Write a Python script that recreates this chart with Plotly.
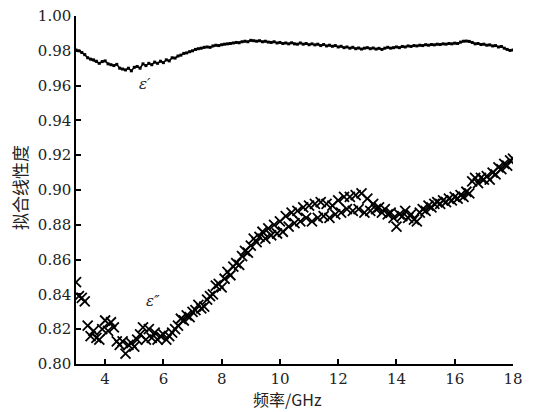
import numpy as np
import plotly.graph_objects as go

# Frequency grid (GHz)
freq = [round(3.0 + 0.1 * i, 1) for i in range(151)]

# Fitting linearity of epsilon' (real part)
eps_real = [
    0.9805, 0.9800, 0.9790, 0.9778, 0.9760, 0.9752, 0.9748, 0.9740, 0.9728, 0.9738,
    0.9742, 0.9725, 0.9720, 0.9715, 0.9722, 0.9700, 0.9695, 0.9690, 0.9700, 0.9685,
    0.9705, 0.9710, 0.9700, 0.9725, 0.9715, 0.9728, 0.9720, 0.9735, 0.9728, 0.9740,
    0.9732, 0.9748, 0.9742, 0.9760, 0.9758, 0.9770, 0.9775, 0.9785, 0.9788, 0.9795,
    0.9800, 0.9808, 0.9812, 0.9815, 0.9820, 0.9822, 0.9820, 0.9828, 0.9832, 0.9830,
    0.9835, 0.9838, 0.9840, 0.9842, 0.9845, 0.9848, 0.9846, 0.9852, 0.9855, 0.9852,
    0.9860, 0.9858, 0.9855, 0.9858, 0.9852, 0.9855, 0.9850, 0.9848, 0.9852, 0.9845,
    0.9848, 0.9842, 0.9845, 0.9840, 0.9846, 0.9840, 0.9838, 0.9845, 0.9838, 0.9842,
    0.9835, 0.9840, 0.9834, 0.9838, 0.9830, 0.9836, 0.9828, 0.9832, 0.9826, 0.9830,
    0.9822, 0.9826, 0.9818, 0.9822, 0.9815, 0.9820, 0.9812, 0.9816, 0.9810, 0.9815,
    0.9818, 0.9812, 0.9816, 0.9810, 0.9814, 0.9808, 0.9815, 0.9820, 0.9815, 0.9818,
    0.9822, 0.9818, 0.9825, 0.9822, 0.9828, 0.9825, 0.9830, 0.9828, 0.9832, 0.9830,
    0.9835, 0.9832, 0.9836, 0.9834, 0.9838, 0.9836, 0.9840, 0.9838, 0.9842, 0.9840,
    0.9844, 0.9842, 0.9850, 0.9855, 0.9856, 0.9854, 0.9848, 0.9840, 0.9842, 0.9836,
    0.9838, 0.9832, 0.9834, 0.9828, 0.9830, 0.9822, 0.9825, 0.9815, 0.9808, 0.9802,
    0.9805,
]

# Fitting linearity of epsilon'' (imaginary part)
eps_imag = [
    0.847, 0.839, 0.838, 0.836, 0.822, 0.816, 0.819, 0.815, 0.814, 0.820,
    0.825, 0.819, 0.824, 0.821, 0.813, 0.811, 0.813, 0.806, 0.811, 0.812,
    0.810, 0.814, 0.817, 0.821, 0.814, 0.820, 0.815, 0.818, 0.814, 0.816,
    0.817, 0.814, 0.816, 0.818, 0.820, 0.822, 0.826, 0.825, 0.828, 0.827,
    0.830, 0.831, 0.834, 0.832, 0.833, 0.837, 0.839, 0.840, 0.845, 0.846,
    0.844, 0.849, 0.853, 0.851, 0.856, 0.858, 0.857, 0.862, 0.865, 0.864,
    0.868, 0.872, 0.870, 0.873, 0.876, 0.872, 0.878, 0.874, 0.880, 0.875,
    0.882, 0.876, 0.885, 0.879, 0.887, 0.881, 0.888, 0.882, 0.890, 0.884,
    0.891, 0.882, 0.892, 0.884, 0.893, 0.885, 0.892, 0.884, 0.891, 0.886,
    0.894, 0.887, 0.896, 0.889, 0.896, 0.888, 0.897, 0.889, 0.898, 0.887,
    0.895, 0.888, 0.892, 0.889, 0.890, 0.887, 0.889, 0.886, 0.887, 0.884,
    0.879, 0.886, 0.885, 0.888, 0.884, 0.886, 0.883, 0.882, 0.887, 0.889,
    0.888, 0.891, 0.890, 0.892, 0.893, 0.892, 0.894, 0.893, 0.895, 0.894,
    0.896, 0.895, 0.897, 0.896, 0.899, 0.898, 0.905, 0.907, 0.904, 0.907,
    0.906, 0.908, 0.906, 0.910, 0.909, 0.913, 0.912, 0.915, 0.914, 0.917,
    0.918,
]

x_ticks = [4, 6, 8, 10, 12, 14, 16, 18]
y_ticks = [0.80, 0.82, 0.84, 0.86, 0.88, 0.90, 0.92, 0.94, 0.96, 0.98, 1.00]

label_real = "ε′"
label_imag = "ε″"
label_real_pos = (5.37, 0.961)
label_imag_pos = (5.65, 0.836)
x_title = "频率/GHz"
y_title = "拟合线性度"

serif = "DejaVu Serif"
cjk = "Noto Sans CJK SC"
txt = "#222"

fig = go.Figure()
fig.add_trace(go.Scatter(
    x=freq, y=eps_real, mode="lines+markers",
    line=dict(color="black", width=1.6),
    marker=dict(symbol="square", size=3, color="black"),
    showlegend=False,
))
fig.add_trace(go.Scatter(
    x=freq, y=eps_imag, mode="markers",
    marker=dict(symbol="x-thin", size=10, line=dict(color="black", width=1.8)),
    showlegend=False,
))

fig.add_annotation(x=label_real_pos[0], y=label_real_pos[1], text="<i>" + label_real + "</i>",
                   showarrow=False, font=dict(family=serif, size=15, color=txt))
fig.add_annotation(x=label_imag_pos[0], y=label_imag_pos[1], text="<i>" + label_imag + "</i>",
                   showarrow=False, font=dict(family=serif, size=15, color=txt))
fig.add_annotation(x=0.483, y=-0.102, xref="paper", yref="paper", text=x_title,
                   showarrow=False, yanchor="middle", xanchor="center",
                   font=dict(family=cjk, size=16, color=txt))
fig.add_annotation(x=-0.128, y=0.506, xref="paper", yref="paper", text=y_title,
                   showarrow=False, yanchor="middle", xanchor="center", textangle=-90,
                   font=dict(family=cjk, size=17, color=txt))

fig.update_layout(
    width=533, height=412,
    margin=dict(l=68, r=28, t=8, b=56, autoexpand=False),
    paper_bgcolor="white", plot_bgcolor="white",
    font=dict(family=serif, color=txt),
    xaxis=dict(
        range=[3, 18], tickvals=x_ticks, ticks="inside", ticklen=5, tickwidth=1.5,
        tickcolor="black", showline=True, linecolor="black", linewidth=1.5,
        showgrid=False, zeroline=False, mirror=False, automargin=False,
        ticklabeloverflow="allow",
        tickfont=dict(family=serif, size=15, color=txt),
    ),
    yaxis=dict(
        range=[0.80, 1.00], tickvals=y_ticks, tickformat=".2f", ticks="inside",
        ticklen=5, tickwidth=1.5, tickcolor="black", showline=True,
        linecolor="black", linewidth=1.5, showgrid=False, zeroline=False, mirror=False,
        automargin=False, ticklabeloverflow="allow",
        tickfont=dict(family=serif, size=15, color=txt),
    ),
)

fig.write_html("out.html")
